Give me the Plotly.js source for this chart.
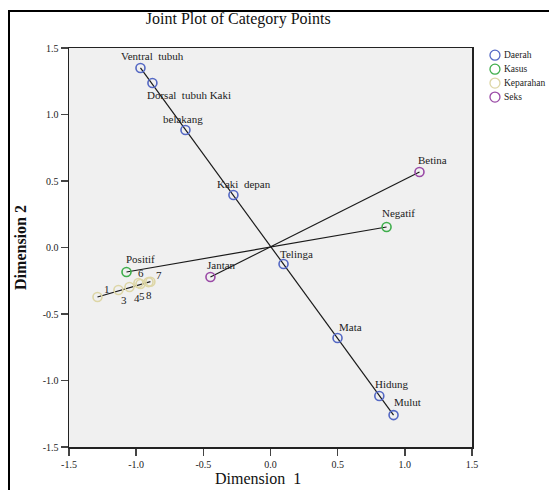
<!DOCTYPE html>
<html><head><meta charset="utf-8">
<script src="https://cdn.plot.ly/plotly-3.0.1.min.js"></script>
<style>
html,body{margin:0;padding:0;background:#fff;overflow:hidden}
#chart{width:549px;height:490px;position:absolute;left:0;top:0}
#frame{position:absolute;left:8px;top:10px;width:541px;height:480px;border-left:2px solid #000;border-top:2px solid #000;box-sizing:border-box;pointer-events:none}
</style></head><body>
<div id="chart"></div><div id="frame"></div>
<script>
// ---- data ----
const daerahLabels = ["Ventral  tubuh","Dorsal  tubuh Kaki","belakang","Kaki  depan","Telinga","Mata","Hidung","Mulut"];
const daerahX = [-0.968,-0.879,-0.633,-0.276,0.097,0.499,0.81,0.916];
const daerahY = [1.35,1.237,0.883,0.395,-0.124,-0.68,-1.117,-1.26];

const kasusLabels = ["Positif","Negatif"];
const kasusX = [-1.072,0.864];
const kasusY = [-0.184,0.154];

const keparahanLabels = ["1","3","4","5","6","7","8"];
const keparahanX = [-1.288,-1.132,-1.05,-0.968,-0.983,-0.908,-0.894];
const keparahanY = [-0.372,-0.32,-0.297,-0.274,-0.267,-0.26,-0.257];

const seksLabels = ["Jantan","Betina"];
const seksX = [-0.447,1.109];
const seksY = [-0.222,0.568];

const legendNames = ["Daerah","Kasus","Keparahan","Seks"];
const tickVals = [-1.5,-1.0,-0.5,0.0,0.5,1.0,1.5];
const tickText = ["-1.5","-1.0","-0.5","0.0","0.5","1.0","1.5"];

// ---- styles (label pixel offsets, colours) ----
const daerahOff = [[12,-12],[37,12],[-2,-11],[11,-11],[13,-10],[13,-11],[13,-12],[14,-13]];
const kasusOff = [[14,-13],[12,-14]];
const keparahanOff = [[10,-8],[6,10],[8,11],[2,12],[3,-10],[10,-7],[-1,13]];
const seksOff = [[11,-12],[13,-12]];
const colors = ["#5468c4","#3fae4c","#ddd6a6","#9a4aa6"];

const groups = [
  {x:daerahX, y:daerahY, labels:daerahLabels, off:daerahOff},
  {x:kasusX, y:kasusY, labels:kasusLabels, off:kasusOff},
  {x:keparahanX, y:keparahanY, labels:keparahanLabels, off:keparahanOff},
  {x:seksX, y:seksY, labels:seksLabels, off:seksOff}
];

const serif = "Liberation Serif, Times New Roman, serif";
const traces = [];
const annotations = [];
const shapes = [];
groups.forEach(g => {
  const n = g.x.length;
  traces.push({x:[g.x[0], g.x[n-1]], y:[g.y[0], g.y[n-1]], mode:"lines", type:"scatter",
    line:{color:"#1a1a1a", width:1.2}, showlegend:false, hoverinfo:"skip"});
});
groups.forEach((g,k) => {
  const c = colors[k];
  traces.push({x:g.x, y:g.y, mode:"markers", type:"scatter", name:legendNames[k], showlegend:false,
    marker:{symbol:"circle-open", size:9, color:c, line:{width:1.6, color:c}}});
  g.labels.forEach((t,i) => {
    annotations.push({x:g.x[i], y:g.y[i], text:t, showarrow:false, xref:"x", yref:"y",
      xshift:g.off[i][0], yshift:-g.off[i][1], xanchor:"center", yanchor:"middle",
      font:{family:serif, size:11, color:"#222"}});
  });
});
// custom legend
const legY = [0.982, 0.947, 0.912, 0.877];
legendNames.forEach((nm,k) => {
  shapes.push({type:"circle", xref:"paper", yref:"paper", xsizemode:"pixel", ysizemode:"pixel",
    xanchor:1.057, yanchor:legY[k], x0:-5, x1:5, y0:-5, y1:5,
    line:{color:colors[k], width:1.3}, fillcolor:"rgba(0,0,0,0)"});
  annotations.push({xref:"paper", yref:"paper", x:1.074, y:legY[k], text:nm, showarrow:false,
    xanchor:"left", yanchor:"middle", font:{family:serif, size:9.5, color:"#222"}});
});
// x axis title (offset like the reference)
annotations.push({xref:"paper", yref:"paper", x:0.469, y:-0.078, text:"Dimension  1", showarrow:false,
  xanchor:"center", yanchor:"middle", font:{family:serif, size:16, color:"#111"}});

const layout = {
  width:549, height:490,
  margin:{l:69, r:77, t:48, b:43},
  paper_bgcolor:"#fff", plot_bgcolor:"#f0f0f0",
  title:{text:"Joint Plot of Category Points", font:{family:serif, size:16, color:"#111"},
    xref:"paper", x:0.42, xanchor:"center", yref:"container", y:0.962, yanchor:"middle"},
  xaxis:{range:[-1.5,1.5], tickvals:tickVals, ticktext:tickText, showgrid:false, zeroline:false,
    ticks:"outside", ticklen:7, tickwidth:1.5, tickcolor:"#444", showline:true, linecolor:"#222", linewidth:1.5, mirror:true,
    tickfont:{family:serif, size:10, color:"#222"}},
  yaxis:{range:[-1.5,1.5], tickvals:tickVals, ticktext:tickText, showgrid:false, zeroline:false,
    ticks:"outside", ticklen:7, tickwidth:1.5, tickcolor:"#444", showline:true, linecolor:"#222", linewidth:1.5, mirror:true,
    tickfont:{family:serif, size:10, color:"#222"},
    title:{text:"<b>Dimension 2</b>", font:{family:serif, size:16, color:"#111"}, standoff:12}},
  annotations:annotations,
  shapes:shapes,
  showlegend:false
};
Plotly.newPlot("chart", traces, layout, {displayModeBar:false, staticPlot:true});
</script>
</body></html>
